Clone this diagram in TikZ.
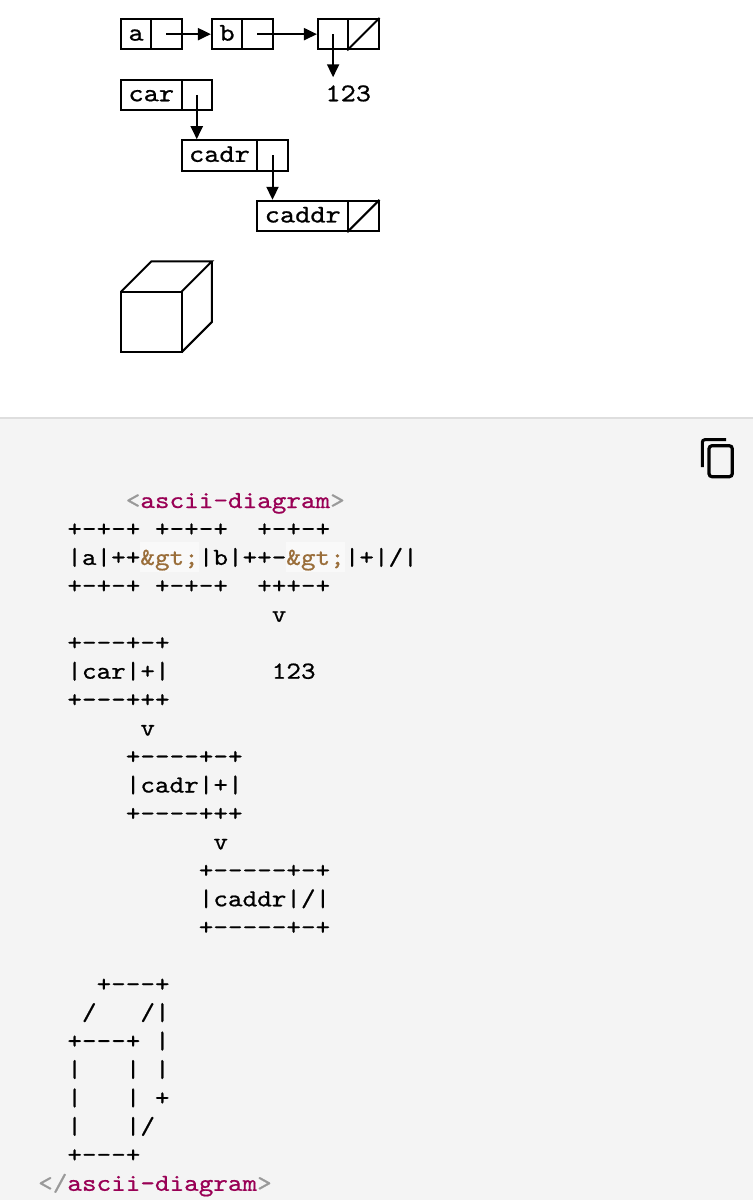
\documentclass[tikz,border=0pt]{standalone}
\usepackage{fontspec}
\setmonofont{lmmono10-regular.otf}[FakeStretch=1.135, FakeBold=0.7]
\usetikzlibrary{arrows.meta}

\definecolor{codebg}{HTML}{F4F4F4}
\definecolor{coderule}{HTML}{DEDEDE}
\definecolor{punct}{HTML}{999999}
\definecolor{tagname}{HTML}{990055}
\definecolor{entity}{HTML}{9A6E3A}

\tikzset{
    cell/.style={draw, line width=2pt, inner sep=0pt, minimum height=30.3pt,
        font=\ttfamily\fontsize{25.5}{25.5}\selectfont, text height=15pt, text depth=2pt},
    ptr/.style={line width=2pt, -{Triangle[length=13pt, width=12pt]}},
    codeline/.style={anchor=base west, inner sep=0pt, font=\ttfamily\fontsize{24.5}{28}\selectfont},
}

% one line of the listing: row, column, text
\newcommand{\codeln}[3]{\node[codeline] (ln#1) at ({38+#2*14.6}, {508+#1*28.45}) {#3};}

\begin{document}
\begin{tikzpicture}[x=1pt, y=-1pt]
    \useasboundingbox (0, 0) rectangle (753, 1200);

    % Rendered diagram
    \begin{scope}[shift={(121, 19)}, x=15.15pt, y=-15.15pt]
    \node[cell, minimum width=30.3pt] (a) at (1, 1) {a};
    \node[cell, minimum width=30.3pt] (ap) at (3, 1) {};
    \node[cell, minimum width=30.3pt] (b) at (7, 1) {b};
    \node[cell, minimum width=30.3pt] (bp) at (9, 1) {};
    \node[cell, minimum width=30.3pt] (nl) at (14, 1) {};
    \node[cell, minimum width=30.3pt] (nlnil) at (16, 1) {};
    \node[cell, draw=none, inner ysep=8pt] (num) at (15, 5) {123};

    \node[cell, minimum width=60.6pt] (car) at (2, 5) {car};
    \node[cell, minimum width=30.3pt] (carp) at (5, 5) {};
    \node[cell, minimum width=75.75pt] (cadr) at (6.5, 9) {cadr};
    \node[cell, minimum width=30.3pt] (cadrp) at (10, 9) {};
    \node[cell, minimum width=90.9pt] (caddr) at (12, 13) {caddr};
    \node[cell, minimum width=30.3pt] (caddrnil) at (16, 13) {};

    \draw[ptr] (ap.center) -- (b.west);
    \draw[ptr] (bp.center) -- (nl.west);
    \draw[ptr] (nl.center) -- (nl.center |- num.north);
    \draw[ptr] (carp.center) -- (carp.center |- cadr.north);
    \draw[ptr] (cadrp.center) -- (cadrp.center |- caddr.north);
    \draw[line width=2pt] (nlnil.south west) -- (nlnil.north east);
    \draw[line width=2pt] (caddrnil.south west) -- (caddrnil.north east);

    % cube
    \draw[line width=2pt] (0, 18) rectangle (4, 22);
    \draw[line width=2pt] (0, 18) -- (2, 16) -- (6, 16) -- (4, 18);
    \draw[line width=2pt] (6, 16) -- (6, 20) -- (4, 22);
    \end{scope}

    % Source listing
    \fill[codebg] (0, 419) rectangle (753, 1200);
    \draw[coderule, line width=2pt] (0, 418) -- (753, 418);

    % copy button
    \draw[line width=3pt, rounded corners=2.5pt] (702.3, 467) -- (702.3, 439.7) -- (726, 439.7);
    \draw[line width=3.2pt, rounded corners=3pt] (709, 445.7) rectangle (732.3, 476.7);

    % entity highlights
    \fill[white, opacity=0.5] (140.2, 542) rectangle (198.6, 572);
    \fill[white, opacity=0.5] (286.2, 542) rectangle (344.6, 572);

    \codeln{0}{6}{{\color{punct}<}{\color{tagname}ascii-diagram}{\color{punct}>}}
    \codeln{1}{2}{+-+-+~+-+-+~~+-+-+}
    \codeln{2}{2}{|a|++{\color{entity}\&gt;}|b|++-{\color{entity}\&gt;}|+|/|}
    \codeln{3}{2}{+-+-+~+-+-+~~+++-+}
    \codeln{4}{16}{v}
    \codeln{5}{2}{+---+-+}
    \codeln{6}{2}{|car|+|~~~~~~~123}
    \codeln{7}{2}{+---+++}
    \codeln{8}{7}{v}
    \codeln{9}{6}{+----+-+}
    \codeln{10}{6}{|cadr|+|}
    \codeln{11}{6}{+----+++}
    \codeln{12}{12}{v}
    \codeln{13}{11}{+-----+-+}
    \codeln{14}{11}{|caddr|/|}
    \codeln{15}{11}{+-----+-+}
    \codeln{17}{4}{+---+}
    \codeln{18}{3}{/~~~/|}
    \codeln{19}{2}{+---+~|}
    \codeln{20}{2}{|~~~|~|}
    \codeln{21}{2}{|~~~|~+}
    \codeln{22}{2}{|~~~|/}
    \codeln{23}{2}{+---+}
    \codeln{24}{0}{{\color{punct}</}{\color{tagname}ascii-diagram}{\color{punct}>}}
\end{tikzpicture}
\end{document}
